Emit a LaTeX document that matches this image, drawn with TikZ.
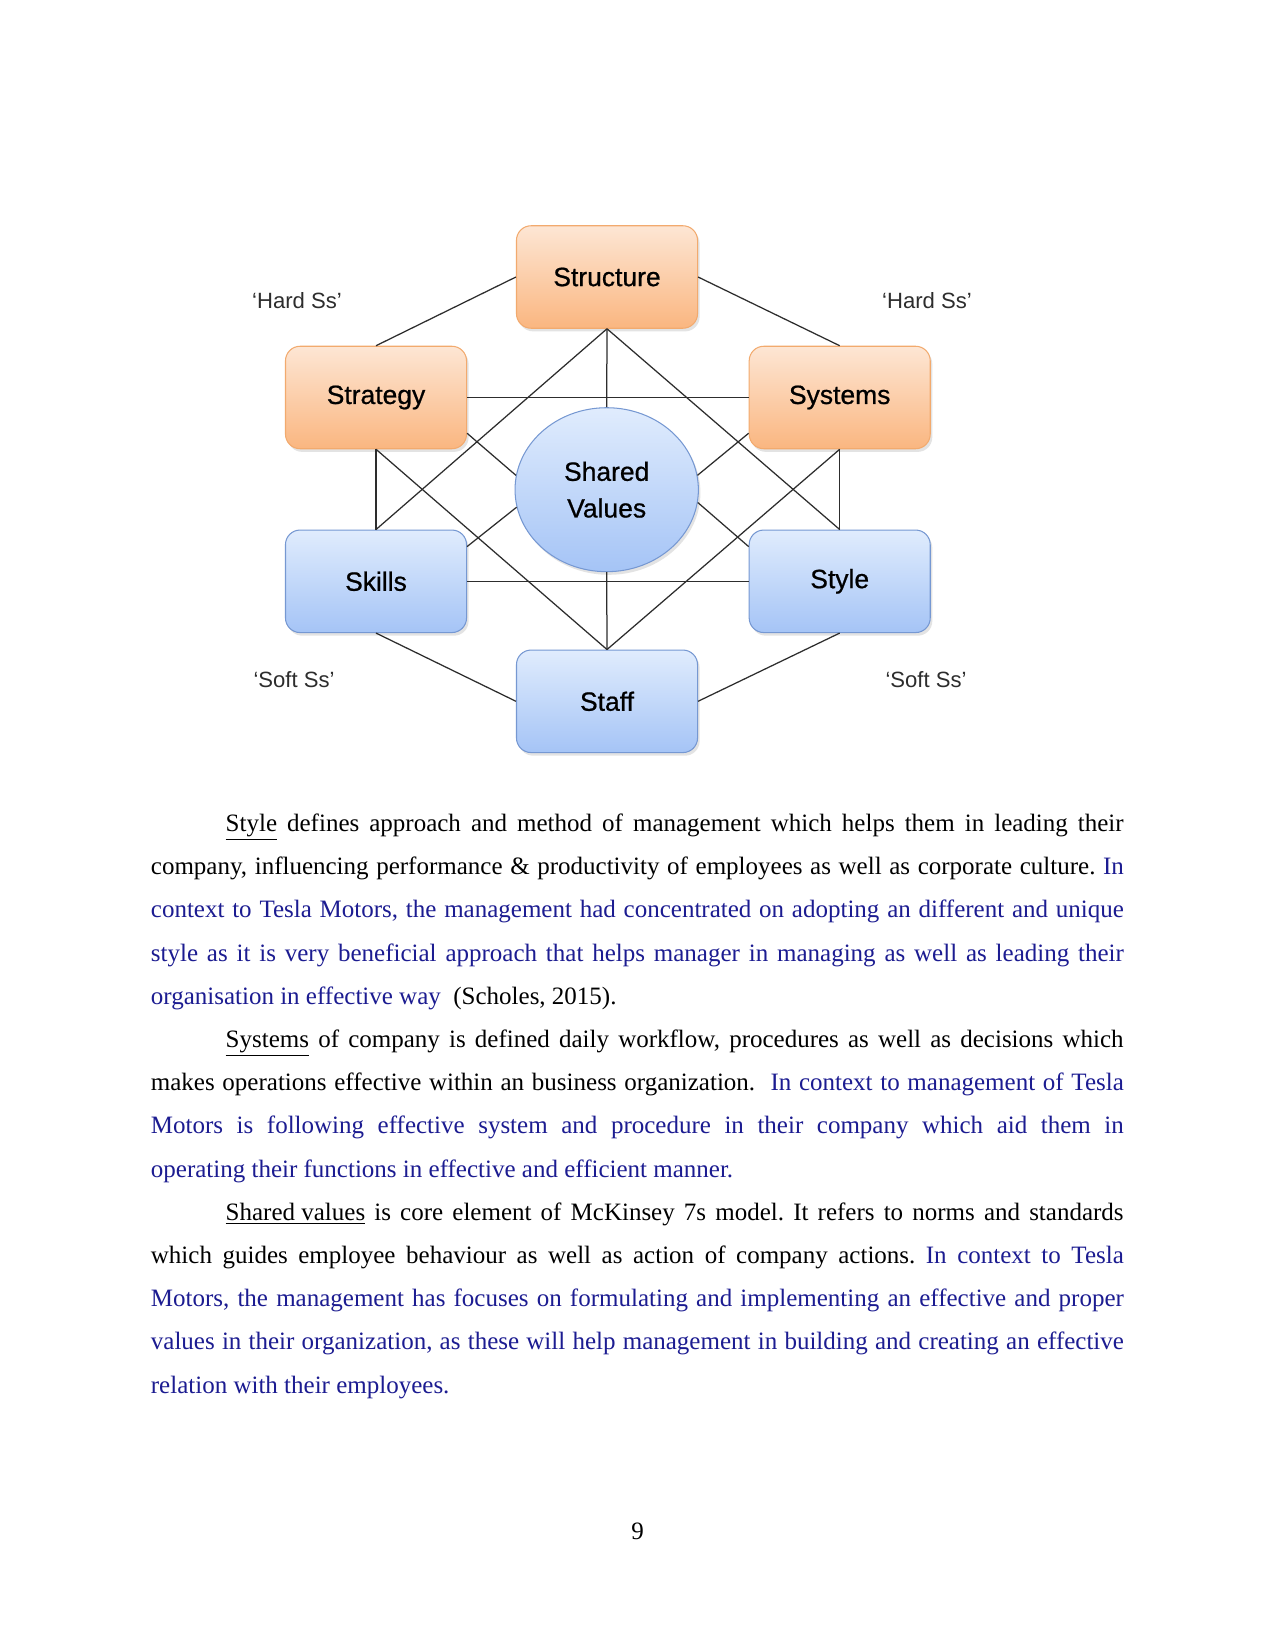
\documentclass[tikz,border=0pt]{standalone}
\usepackage{fontspec}
\setmainfont{Liberation Serif}
\newfontfamily\diagfont{Liberation Sans}
\newfontface\boxfont{Liberation Sans}[FakeBold=0.7]
\usetikzlibrary{shapes.geometric,shadows}
\definecolor{tblue}{RGB}{28,28,145}
\definecolor{otop}{RGB}{253,230,212}
\definecolor{obot}{RGB}{250,182,128}
\definecolor{oedge}{RGB}{242,170,110}
\definecolor{btop}{RGB}{224,236,253}
\definecolor{bbot}{RGB}{165,196,246}
\definecolor{bedge}{RGB}{118,152,210}
\definecolor{lgray}{RGB}{45,45,45}
\newcommand{\fullline}[1]{\hbox to 467pt{#1}}
\newcommand{\indline}[1]{\hbox to 431pt{#1}}
\begin{document}
\frenchspacing
\begin{tikzpicture}[x=0.48pt,y=-0.48pt,
  box/.style={rectangle, rounded corners=7pt, minimum width=86.9pt, minimum height=49.2pt,
    inner sep=0pt, line width=0.5pt, font=\boxfont\fontsize{12.7}{15}\selectfont,
    drop shadow={shadow xshift=1pt, shadow yshift=-1.5pt, opacity=0.22}},
  hardbox/.style={box, draw=oedge, top color=otop, bottom color=obot},
  softbox/.style={box, draw=bedge, top color=btop, bottom color=bbot},
  conn/.style={draw=lgray, line width=0.6pt},
  sslabel/.style={font=\diagfont\fontsize{10.6}{12}\selectfont, text=lgray, inner sep=0pt},
  bodyl/.style={anchor=base west, inner sep=0pt, font=\fontsize{12}{14}\selectfont}]
\fill[white] (0,0) rectangle (1275,1651);
\useasboundingbox (0,0) rectangle (1275,1651);

% nodes
\node[hardbox] (st) at (607,277) {Structure};
\node[hardbox] (sg) at (376,397.5) {Strategy};
\node[hardbox] (sy) at (839.7,397.5) {Systems};
\node[softbox] (sk) at (376,581.3) {Skills};
\node[softbox] (sl) at (839.7,581.3) {Style};
\node[softbox] (sf) at (607,701.3) {Staff};
\node[ellipse, draw=bedge, line width=0.5pt, top color=btop, bottom color=bbot,
  minimum width=88pt, minimum height=78.7pt, inner sep=0pt, align=center,
  font=\boxfont\fontsize{12.7}{17.6}\selectfont,
  drop shadow={shadow xshift=1pt, shadow yshift=-1.5pt, opacity=0.22}] (sv) at (606.7,489.7) {Shared\\Values};

\node[sslabel] (hl) at (297,301) {‘Hard Ss’};
\node[sslabel] (hr) at (927,301) {‘Hard Ss’};
\node[sslabel] (sol) at (294,680) {‘Soft Ss’};
\node[sslabel] (sor) at (926,680) {‘Soft Ss’};

% connector end points
\coordinate (sgc) at ([yshift=7.7pt]sg.south east);
\coordinate (syc) at ([yshift=7.7pt]sy.south west);
\coordinate (skc) at ([yshift=-8.2pt]sk.north east);
\coordinate (slc) at ([yshift=-8.2pt]sl.north west);

% connectors
\draw[conn] (st.west) -- (sg.north);
\draw[conn] (st.east) -- (sy.north);
\draw[conn] (st.south) -- (sv.north);
\draw[conn] (st.south) -- (sk.north);
\draw[conn] (st.south) -- (sl.north);
\draw[conn] (sg.east) -- (sy.west);
\draw[conn] (sg.south) -- (sk.north);
\draw[conn] (sg.south) -- (sf.north);
\draw[conn] (sy.south) -- (sl.north);
\draw[conn] (sy.south) -- (sf.north);
\draw[conn] (sk.east) -- (sl.west);
\draw[conn] (sv.south) -- (sf.north);
\draw[conn] (sk.south) -- (sf.west);
\draw[conn] (sl.south) -- (sf.east);
\draw[conn] (sgc) -- (sv.171);
\draw[conn] (syc) -- (sv.9);
\draw[conn] (skc) -- (sv.191);
\draw[conn] (slc) -- (sv.-8);

% body text
\node[bodyl] (l1) at (225.3,831.5) {\indline{\underline{Style} defines approach and method of management which helps them in leading their}};
\node[bodyl] (l2) at (150.5,874.7) {\fullline{company, influencing performance \& productivity of employees as well as corporate culture. {\color{tblue}In}}};
\node[bodyl] (l3) at (150.5,917.9) {\color{tblue}\fullline{context to Tesla Motors, the management had concentrated on adopting an different and unique}};
\node[bodyl] (l4) at (150.5,961.1) {\color{tblue}\fullline{style as it is very beneficial approach that helps manager in managing as well as leading their}};
\node[bodyl] (l5) at (150.5,1004.3) {{\color{tblue}organisation in effective way}\ \ (Scholes, 2015).};
\node[bodyl] (l6) at (225.3,1047.5) {\indline{\underline{Systems} of company is defined daily workflow, procedures as well as decisions which}};
\node[bodyl] (l7) at (150.5,1090.7) {\fullline{makes operations effective within an business organization.\ \ {\color{tblue}In context to management of Tesla}}};
\node[bodyl] (l8) at (150.5,1133.9) {\color{tblue}\fullline{Motors is following effective system and procedure in their company which aid them in}};
\node[bodyl] (l9) at (150.5,1177.1) {\color{tblue}operating their functions in effective and efficient manner.};
\node[bodyl] (l10) at (225.3,1220.3) {\indline{\underline{Shared values} is core element of McKinsey 7s model. It refers to norms and standards}};
\node[bodyl] (l11) at (150.5,1263.5) {\fullline{which guides employee behaviour as well as action of company actions. {\color{tblue}In context to Tesla}}};
\node[bodyl] (l12) at (150.5,1306.7) {\color{tblue}\fullline{Motors, the management has focuses on formulating and implementing an effective and proper}};
\node[bodyl] (l13) at (150.5,1349.9) {\color{tblue}\fullline{values in their organization, as these will help management in building and creating an effective}};
\node[bodyl] (l14) at (150.5,1393.1) {\color{tblue}relation with their employees.};

\node[anchor=base, inner sep=0pt, font=\fontsize{12}{14}\selectfont] (pg) at (637.5,1539) {9};
\end{tikzpicture}
\end{document}
